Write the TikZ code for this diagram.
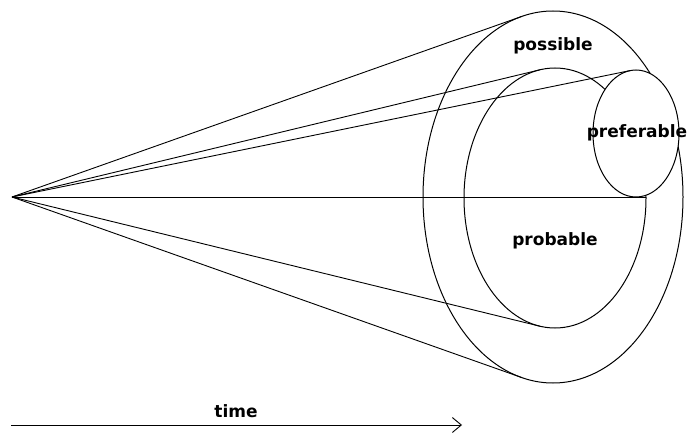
\documentclass[tikz,border=0pt]{standalone}
\usepackage{fontspec}
\setmainfont{DejaVu Sans}
\usetikzlibrary{arrows.meta}
\tikzset{
  ring/.style={draw=black, line width=1pt},
  ray/.style={draw=black, line width=0.9pt},
  lbl/.style={font=\fontsize{17pt}{20pt}\selectfont\bfseries, inner sep=0pt},
}
\begin{document}
\begin{tikzpicture}[x=1pt,y=1pt]
\useasboundingbox (0,0) rectangle (688,432);
% centres
\coordinate (oc) at (553,235);
\coordinate (ic) at (555,234);
\coordinate (pc) at (636,298.5);
\coordinate (apex) at (12,235);
% ellipses
\draw[ring] (oc) ellipse [x radius=130, y radius=186];
\draw[ring] (ic) ellipse [x radius=91, y radius=130];
\draw[ring, fill=white] (pc) ellipse [x radius=43, y radius=63.5];
% tangent points
\coordinate (o1) at ([shift={(103.9:130 and 186)}]oc);
\coordinate (o2) at ([shift={(256.1:130 and 186)}]oc);
\coordinate (i1) at ([shift={(99.6:91 and 130)}]ic);
\coordinate (i2) at ([shift={(260.4:91 and 130)}]ic);
\coordinate (p1) at ([shift={(97.9:43 and 63.5)}]pc);
\coordinate (ie) at (646,235);
% rays
\draw[ray] (apex) -- (o1);
\draw[ray] (apex) -- (o2);
\draw[ray] (apex) -- (i1);
\draw[ray] (apex) -- (i2);
\draw[ray] (apex) -- (p1);
\draw[ray] (apex) -- (ie);
% labels
\node[lbl] (possible) at (553,386) {possible};
\node[lbl] (preferable) at (637,299) {preferable};
\node[lbl] (probable) at (555,191) {probable};
% time arrow
\coordinate (t0) at (11,7);
\coordinate (t1) at (462,7);
\draw[ray, -{Straight Barb[length=9pt,width=15pt]}] (t0) -- (t1);
\node[lbl] (time) at (236,21) {time};
\end{tikzpicture}
\end{document}
